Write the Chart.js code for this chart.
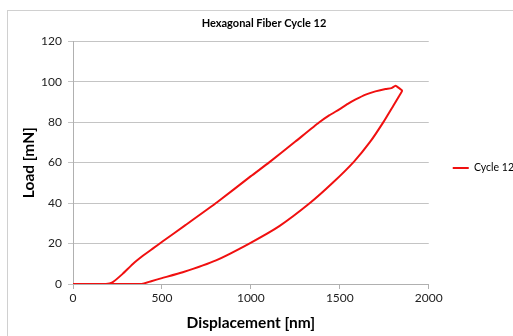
<!DOCTYPE html>
<html>
<head>
<meta charset="utf-8">
<script src="https://cdn.jsdelivr.net/npm/chart.js@4"></script>
<style>
  body { margin: 0; background: #fff; }
  #wrap { position: relative; width: 513px; height: 336px; overflow: hidden; }
  #frame { position: absolute; left: 7px; top: 10px; width: 600px; height: 400px; border: 1px solid #d0d0d0; }
  canvas { position: absolute; left: 0; top: 0; }
</style>
</head>
<body>
<div id="wrap">
  <div id="frame"></div>
  <canvas id="myChart" width="513" height="336"></canvas>
</div>
<script>
"use strict";

// Cycle 12: loading then unloading (displacement nm / load mN)
const displacement = [0, 185, 222, 279, 335, 391, 450, 503, 634, 812, 1000, 1103, 1250, 1383, 1440, 1495, 1545, 1589, 1645, 1700, 1757, 1790, 1813, 1832, 1850,
    1832, 1800, 1745, 1670, 1580, 1460, 1332, 1160, 991, 804, 617, 500, 440, 400, 370, 0];
const load = [0, 0, 0.8, 5, 9.8, 13.8, 17.6, 21, 29.2, 40.5, 53.3, 60.1, 70.4, 79.8, 83.3, 86.2, 89, 91.2, 93.6, 95.2, 96.4, 96.8, 98, 96.9, 95.5,
    92.7, 88, 80, 70.2, 60.5, 50, 40, 28.6, 20, 11.7, 5.8, 2.9, 1.4, 0.3, 0, 0];
const xTicks = [0, 500, 1000, 1500, 2000];
const yTicks = [0, 20, 40, 60, 80, 100, 120];

const points = displacement.map((x, i) => ({ x: x, y: load[i] }));

const ctx = document.getElementById('myChart').getContext('2d');
new Chart(ctx, {
    type: 'scatter',
    data: {
        datasets: [{
            label: 'Cycle 12',
            data: points,
            showLine: true,
            borderColor: '#f01010',
            backgroundColor: '#f01010',
            borderWidth: 2,
            pointRadius: 0,
            pointStyle: 'line',
            tension: 0.15
        }]
    },
    options: {
        responsive: false,
        animation: false,
        layout: { padding: { left: 4, right: -11, top: 0, bottom: 0 } },
        plugins: {
            title: {
                display: true,
                text: 'Hexagonal Fiber Cycle 12',
                color: '#000',
                font: { family: 'Lato', size: 11, weight: 'bold' },
                padding: { top: 17, bottom: 11 }
            },
            legend: {
                position: 'right',
                labels: {
                    color: '#000',
                    font: { family: 'Lato', size: 10.5 },
                    usePointStyle: true,
                    pointStyleWidth: 16,
                    boxHeight: 2,
                    padding: 24
                }
            },
            tooltip: { enabled: false }
        },
        scales: {
            x: {
                type: 'linear',
                min: 0,
                max: 2000,
                afterBuildTicks: s => { s.ticks = xTicks.map(v => ({ value: v })); },
                afterFit: s => { s.height = 52; },
                grid: { drawOnChartArea: false, drawTicks: true, tickLength: 5, color: '#b0b0b0' },
                border: { color: '#b0b0b0' },
                ticks: { color: '#222', font: { family: 'Lato', size: 12 }, padding: 2, maxRotation: 0, callback: v => String(v) },
                title: {
                    display: true,
                    text: 'Displacement [nm]',
                    color: '#000',
                    font: { family: 'Lato', size: 15.5, weight: 'bold' },
                    padding: { top: 0, bottom: 4 }
                }
            },
            y: {
                min: 0,
                max: 120,
                afterBuildTicks: s => { s.ticks = yTicks.map(v => ({ value: v })); },
                afterFit: s => { s.width = 69; },
                grid: { color: '#c4c4c4', tickLength: 5 },
                border: { color: '#b0b0b0' },
                ticks: { color: '#222', font: { family: 'Lato', size: 12 }, padding: 6, callback: v => String(v) },
                title: {
                    display: true,
                    text: 'Load [mN]',
                    color: '#000',
                    font: { family: 'Lato', size: 15.5, weight: 'bold' },
                    padding: { top: 16, bottom: 0 }
                }
            }
        }
    }
});
</script>
</body>
</html>
